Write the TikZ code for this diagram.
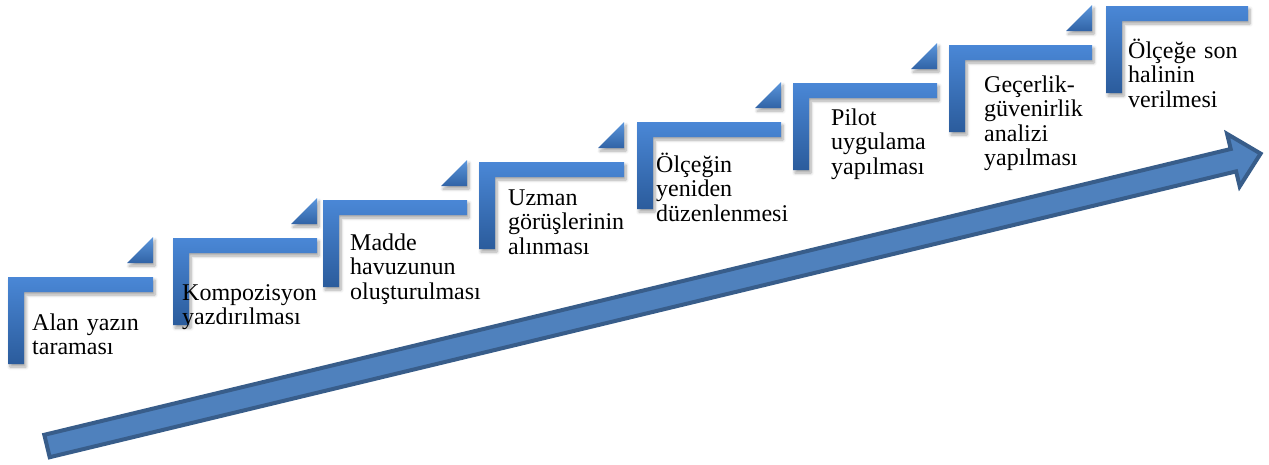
\documentclass[tikz,border=0pt]{standalone}
\usepackage{fontspec}
\setmainfont{Liberation Serif}
\usetikzlibrary{shadows.blur}
\definecolor{stepTop}{HTML}{4A87D6}
\definecolor{stepBot}{HTML}{2B5C9C}
\definecolor{triTop}{HTML}{5A96DC}
\definecolor{triBot}{HTML}{3163A6}
\definecolor{arrowFill}{HTML}{4F81BD}
\definecolor{arrowLine}{HTML}{385D8A}
\tikzset{
  softshadow/.style={blur shadow={shadow xshift=2pt, shadow yshift=-3pt, shadow blur steps=6, shadow opacity=35, shadow blur radius=3pt}},
  stepshape/.style={top color=stepTop, bottom color=stepBot, draw=none, softshadow},
  tri/.style={top color=triTop, bottom color=triBot, draw=none, softshadow},
  bigarrow/.style={fill=arrowFill, draw=arrowLine, line width=4pt, line join=miter},
  steptext/.style={anchor=base west, inner sep=0pt, text width=160pt, align=left,
    font=\fontsize{24}{24.6}\selectfont, text=black,
    execute at begin node={\lineskiplimit=-20pt\relax}}
}
\begin{document}
\begin{tikzpicture}[x=1pt,y=-1pt]
\useasboundingbox (0,0) rectangle (1269,464);
% big ascending arrow
\draw[bigarrow] (44.3,434.8) -- (1230.7,149.0) -- (1227.1,133.9) -- (1260.6,153.6)
  -- (1239.7,186.4) -- (1236.1,171.4) -- (49.7,457.2) -- cycle;
% steps
\foreach \L/\T/\R [count=\i] in {8/277/153, 173/238/317, 323/200/467, 479/162/624,
    637/122/781, 793/83/937, 949/45/1092, 1106/6/1248}{
  \path[stepshape] (\L,\T) -- (\R,\T) -- (\R,\T+15) -- (\L+16,\T+15)
     -- (\L+16,\T+87) -- (\L,\T+87) -- cycle;
  \ifnum\i<8
    \path[tri] (\R-26,\T-14) -- (\R,\T-40) -- (\R,\T-14) -- cycle;
  \fi
}
% texts
\node[steptext] (t1) at (32,330) {Alan yazın\\taraması};
\node[steptext] (t2) at (182,300) {Kompozisyon\\yazdırılması};
\node[steptext] (t3) at (350,250) {Madde\\havuzunun\\oluşturulması};
\node[steptext] (t4) at (508,205) {Uzman\\görüşlerinin\\alınması};
\node[steptext] (t5) at (656,172) {Ölçeğin\\yeniden\\düzenlenmesi};
\node[steptext] (t6) at (831,125) {Pilot\\uygulama\\yapılması};
\node[steptext] (t7) at (984,92) {Geçerlik-\\güvenirlik\\analizi\\yapılması};
\node[steptext] (t8) at (1128,58) {Ölçeğe son\\halinin\\verilmesi};
\end{tikzpicture}
\end{document}
